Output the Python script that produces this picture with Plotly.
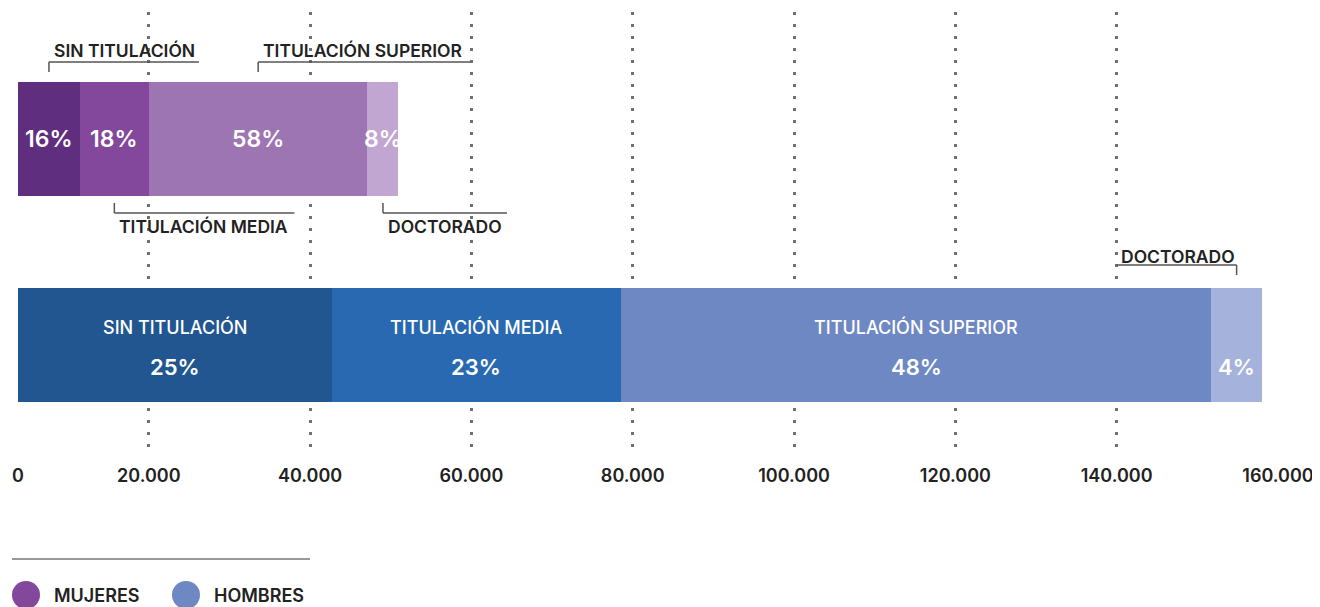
import plotly.graph_objects as go

# datos (personas por nivel de estudios)
grupos = ["HOMBRES", "MUJERES"]
categorias = ["SIN TITULACIÓN", "TITULACIÓN MEDIA", "TITULACIÓN SUPERIOR", "DOCTORADO"]
mujeres = [7860, 8750, 27770, 3930]
hombres = [39810, 36770, 74930, 6470]
pct_mujeres = ["16%", "18%", "58%", "8%"]
pct_hombres = ["25%", "23%", "48%", "4%"]
ticks = [20000, 40000, 60000, 80000, 100000, 120000, 140000, 160000]
tick_labels = ["20.000", "40.000", "60.000", "80.000", "100.000", "120.000", "140.000", "160.000"]

col_muj = ["#5f2e7f", "#83489b", "#9e75b3", "#c1a6d1"]
col_hom = ["#225690", "#2969b1", "#6e88c4", "#a5b2db"]
FONT = "Inter"
DARK = "#222222"

fig = go.Figure()
for i, cat in enumerate(categorias):
    fig.add_trace(go.Bar(
        y=["MUJERES", "HOMBRES"], x=[mujeres[i], hombres[i]],
        orientation="h", name=cat, width=0.553,
        marker=dict(color=[col_muj[i], col_hom[i]], line=dict(width=0)),
        showlegend=False, hoverinfo="x+name",
    ))

# eje de la rejilla punteada (escala propia, como en el original)
fig.add_trace(go.Scatter(
    x=ticks, y=[grupos[0]] * len(ticks), xaxis="x2", mode="markers",
    marker=dict(opacity=0), hoverinfo="skip", showlegend=False,
))


def mids(vals):
    out, acc = [], 0
    for v in vals:
        out.append(acc + v / 2)
        acc += v
    return out


mid_m = mids(mujeres)
mid_h = mids(hombres)

ann = []
shapes = []

# porcentajes dentro de las barras
for i in range(4):
    ann.append(dict(x=mid_m[i], y="MUJERES", text=pct_mujeres[i], showarrow=False,
                    font=dict(family=FONT, size=23, color="white", weight=600)))
    ann.append(dict(x=mid_h[i], y="HOMBRES", text=pct_hombres[i], showarrow=False, yshift=-22,
                    font=dict(family=FONT, size=22, color="white", weight=600)))
for i in range(3):
    ann.append(dict(x=mid_h[i], y="HOMBRES", text=categorias[i], showarrow=False, yshift=18,
                    font=dict(family=FONT, size=18, color="white", weight=500)))

# etiquetas con corchete
line_style = dict(color="#555555", width=1.5)


def corchete(xmid, grupo, texto, largo, dy_line, tick, hacia="right", dy_text=12):
    if hacia == "right":
        x0, x1 = 0, largo
    else:
        x0, x1 = -largo, 0
    shapes.append(dict(type="line", xref="x", yref="y", xsizemode="pixel", ysizemode="pixel",
                       xanchor=xmid, yanchor=grupo, x0=x0, x1=x1, y0=dy_line, y1=dy_line,
                       line=line_style))
    shapes.append(dict(type="line", xref="x", yref="y", xsizemode="pixel", ysizemode="pixel",
                       xanchor=xmid, yanchor=grupo, x0=0, x1=0, y0=dy_line, y1=dy_line + tick,
                       line=line_style))
    ann.append(dict(x=xmid, y=grupo, text=texto, showarrow=False,
                    xanchor="left" if hacia == "right" else "right",
                    xshift=3 if hacia == "right" else 0,
                    yshift=dy_line + dy_text,
                    font=dict(family=FONT, size=17.5, color=DARK, weight=600)))


corchete(mid_m[0], "MUJERES", categorias[0], 150, 77, -10)
corchete(mid_m[2], "MUJERES", categorias[2], 212, 77, -10)
corchete(mid_m[1], "MUJERES", categorias[1], 180, -74, 10, dy_text=-13)
corchete(mid_m[3], "MUJERES", categorias[3], 124, -74, 10, dy_text=-13)
corchete(mid_h[3], "HOMBRES", categorias[3], 120, 80, -10, hacia="left", dy_text=9)

# leyenda
shapes.append(dict(type="line", xref="paper", yref="paper", xsizemode="pixel", ysizemode="pixel",
                   xanchor=0, yanchor=0, x0=-6, x1=292, y0=-111, y1=-111,
                   line=dict(color="#999999", width=2)))
for dx, col, txt, tx in [(8, col_muj[1], "MUJERES", 34), (168, col_hom[2], "HOMBRES", 194)]:
    shapes.append(dict(type="circle", xref="paper", yref="paper", xsizemode="pixel", ysizemode="pixel",
                       xanchor=0, yanchor=0, x0=dx - 14, x1=dx + 14, y0=-161, y1=-133,
                       fillcolor=col, line=dict(width=0)))
    ann.append(dict(x=0, y=0, xref="paper", yref="paper", text=txt, showarrow=False,
                    xanchor="left", yanchor="middle", xshift=tx, yshift=-147,
                    font=dict(family=FONT, size=18, color=DARK, weight=600)))

tickfont = dict(family=FONT, size=18, color=DARK, weight=600)

fig.update_layout(
    width=1320, height=607,
    # la página deja 8 px de margen en el body
    margin=dict(l=8, r=50, t=4, b=167),
    paper_bgcolor="white", plot_bgcolor="white",
    barmode="stack", bargap=0,
    showlegend=False,
    font=dict(family=FONT, color=DARK),
    xaxis=dict(range=[0, 160000], tickvals=[0], ticktext=["0"], showgrid=False,
               zeroline=False, showline=False, ticks="outside", ticklen=11,
               tickcolor="rgba(0,0,0,0)", tickfont=tickfont, fixedrange=True),
    xaxis2=dict(overlaying="x", anchor="y", side="bottom", range=[3784, 160000],
                tickvals=ticks, ticktext=tick_labels, showgrid=True, gridcolor="#707070",
                gridwidth=2.5, griddash="2.5px,9.5px", zeroline=False, showline=False,
                ticks="outside", ticklen=11, tickcolor="rgba(0,0,0,0)", tickfont=tickfont,
                fixedrange=True),
    yaxis=dict(categoryorder="array", categoryarray=grupos, range=[-0.5, 1.6165],
               visible=False, fixedrange=True),
    annotations=ann,
    shapes=shapes,
)

fig.write_html("out.html")
